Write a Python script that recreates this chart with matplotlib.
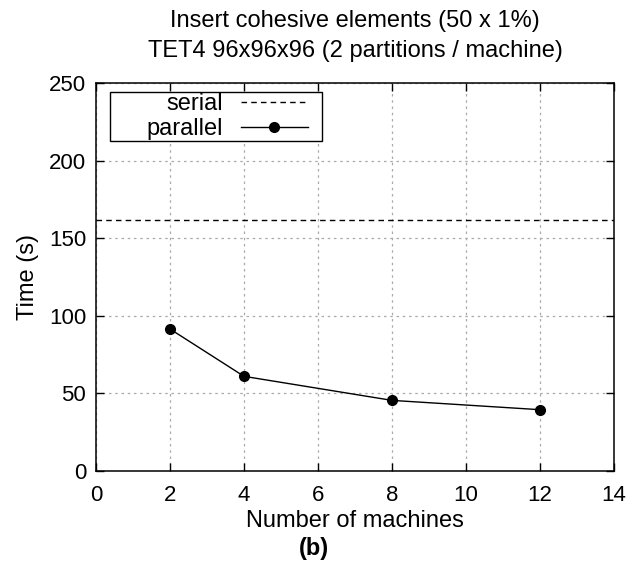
import matplotlib.pyplot as plt
from matplotlib.patches import Rectangle

# data
machines = [2, 4, 8, 12]
parallel_time = [91.5, 61.0, 45.5, 39.5]
serial_time = 161.5

xticks = [0, 2, 4, 6, 8, 10, 12, 14]
yticks = [0, 50, 100, 150, 200, 250]

plt.rcParams['font.family'] = ['Liberation Sans', 'DejaVu Sans']

W, H = 627, 575
fig = plt.figure(figsize=(W / 100, H / 100), dpi=100)
ax = fig.add_axes([96 / W, 1 - 471 / H, (614 - 96) / W, (471 - 83) / H])

ax.axhline(serial_time, color='black', linestyle=(0, (4, 3)), linewidth=1.0, label='serial')
ax.plot(machines, parallel_time, color='black', linewidth=1.0, marker='o',
        markersize=7, label='parallel')

ax.set_xlim(0, 14)
ax.set_ylim(0, 250)
ax.set_xticks(xticks)
ax.set_yticks(yticks)
ax.tick_params(direction='in', top=True, right=True, length=6, width=1,
               labelsize=16, pad=7)
ax.tick_params(axis='x', pad=10)
ax.grid(True, color='#aaaaaa', linestyle=(0, (2, 3)), linewidth=0.9)
for s in ax.spines.values():
    s.set_linewidth(1.1)

ax.set_xlabel('Number of machines', fontsize=17, labelpad=3)
ax.set_ylabel('Time (s)', fontsize=17, labelpad=7)
ax.set_title('Insert cohesive elements (50 x 1%)\nTET4 96x96x96 (2 partitions / machine)',
             fontsize=17, pad=19, linespacing=1.45)

# gnuplot-style key: white box, text right aligned, sample on the right
box = Rectangle((110 / W, 1 - 141 / H), 212 / W, 49 / H, transform=fig.transFigure,
                facecolor='white', edgecolor='black', linewidth=1.0, zorder=4)
ax.add_patch(box)
leg = ax.legend(loc='upper right', bbox_to_anchor=(308 / W, 1 - 93 / H),
                bbox_transform=fig.transFigure, markerfirst=False, fontsize=17,
                frameon=False, handlelength=2.85, borderpad=0, borderaxespad=0,
                labelspacing=0.13, handletextpad=0.75)
leg.set_zorder(5)
for t in leg.get_texts():
    t.set_ha('right')

fig.text(0.5, 1 - 548 / H, '(b)', ha='center', va='center', fontsize=17,
         fontweight='bold')

fig.savefig('out.png', dpi=100)
